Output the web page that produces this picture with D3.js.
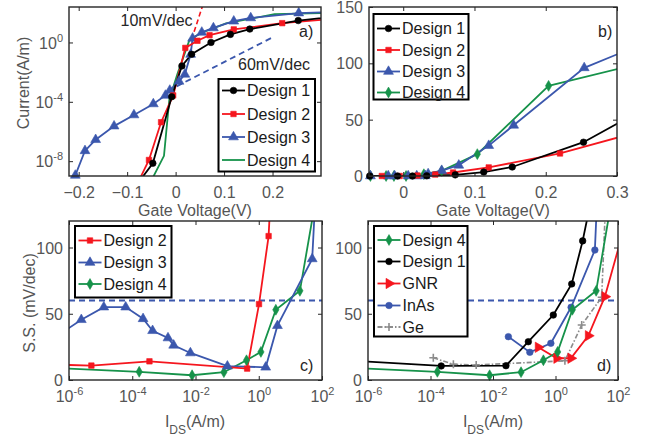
<!DOCTYPE html>
<html><head><meta charset="utf-8">
<script src="https://cdn.jsdelivr.net/npm/d3@7"></script>
<style>
body{margin:0;background:#fff}
text{font-family:"Liberation Sans",Arial,Helvetica,sans-serif}
</style>
</head><body>
<svg id="chart" width="652" height="439"></svg>
<script>
// ---------------- DATA ----------------
// Panels a) and b): gate voltage (V) vs current (A/m)
const design1V = [-0.087, -0.047, -0.008, 0.013, 0.033, 0.073, 0.113, 0.153, 0.253, 0.353];
const design1I = [1.3e-10, 7.2e-9, 2.2e-4, 0.026, 0.16, 1.0, 3.5, 8.0, 30, 65];
const design2V = [-0.08, -0.055, -0.03, -0.005, 0.02, 0.045, 0.07, 0.12, 0.22, 0.32];
const design2I = [2.5e-10, 1.2e-8, 4.2e-6, 2.7e-4, 0.43, 1.3, 3.1, 7.6, 20, 37.5];
const design3V = [-0.207, -0.187, -0.165, -0.127, -0.086, -0.046, -0.021, -0.012, 0.007, 0.019, 0.031, 0.035, 0.054, 0.078, 0.12, 0.155, 0.254, 0.354];
const design3I = [1.1e-9, 5e-8, 2.8e-7, 2.3e-6, 1.3e-5, 7.2e-5, 2.7e-4, 5.9e-4, 2.4e-3, 7.1e-3, 0.155, 1.9, 4.8, 9.5, 27, 45, 96, 122];
const design4V = [-0.046, -0.024, -0.013, 0.004, 0.029, 0.054, 0.104, 0.204, 0.304];
const design4I = [9e-10, 2.3e-8, 1.4e-4, 8e-3, 1.6, 4.5, 19.4, 80, 95.5];
// reference slopes in a)
const slope10V = [0.033, 0.057];
const slope10I = [1.6, 400];
const slope60V = [0.002, 0.201];
const slope60I = [1.1e-3, 2.3];

// Panels c) and d): I_DS (A/m) vs S.S. (mV/dec)
const ss2I = [6e-8, 5.1e-6, 3.5e-4, 0.43, 1.02, 2.05, 4];
const ss2 = [12, 10.9, 14.1, 8.6, 57.3, 108.6, 250];
const ss3I = [5e-7, 2.45e-6, 1.26e-5, 6.2e-5, 2.2e-4, 4.4e-4, 1.35e-3, 2.04e-3, 6.9e-3, 0.102, 1.66, 3.9, 49, 63];
const ss3 = [34.4, 45.5, 55, 55, 46.2, 37.2, 31.7, 26.2, 20.4, 10.4, 9.6, 41, 91.4, 142];
const ss4I = [1e-7, 1.66e-4, 7.8e-3, 0.079, 0.41, 1.17, 3.47, 20, 56];
const ss4 = [9.6, 6.2, 3.6, 5.9, 14.9, 21.2, 53, 67.3, 129];
const ss1I = [7.2e-9, 2.2e-4, 0.026, 0.135, 0.85, 3.3, 7.4, 30];
const ss1 = [16.8, 10.6, 10.8, 28.9, 49, 72.5, 105, 175];
const gnrI = [0.28, 1.1, 3.1, 11.2, 38, 158];
const gnrSS = [24.7, 16.4, 16.4, 33.4, 62.9, 115];
const inasI = [0.031, 0.151, 0.71, 3.16, 18.2, 22.4];
const inasSS = [32.7, 20.9, 27.7, 54.9, 98.1, 147];
const geI = [1.23e-4, 5.4e-4, 2.9e-3, 2.0, 6.9, 30, 41.7];
const geSS = [16.8, 11.8, 11.3, 14.5, 41.5, 62.4, 143];
const ssRef = 60;

// tick values
const aXTicks = [-0.2, -0.1, 0, 0.1, 0.2];
const aYTicks = [1e-8, 1e-4, 1];
const bXTicks = [0, 0.1, 0.2, 0.3];
const bYTicks = [0, 50, 100, 150];
const cdXTicks = [1e-6, 1e-4, 1e-2, 1, 1e2];
const cdYTicks = [0, 50, 100];

// ---------------- STYLE ----------------
const C = {black:"#000000", red:"#f5161e", blue:"#3b57ad", green:"#16924a", gray:"#8c8c8c"};
const AX = "#262626", TK = "#555555";

const svg = d3.select("#chart");

function panel(name, left, top, w, h, x, y) {
  x.range([0, w]); y.range([h, 0]);
  const g = svg.append("g").attr("transform", `translate(${left},${top})`);
  g.append("clipPath").attr("id", "clip-" + name).append("rect").attr("width", w).attr("height", h);
  const data = g.append("g").attr("clip-path", `url(#clip-${name})`);
  return {g, data, x, y, w, h};
}

function styleAxis(sel) {
  sel.select(".domain").remove();
  sel.selectAll(".tick line").attr("stroke", AX).attr("stroke-width", 1);
  sel.selectAll(".tick text").attr("fill", TK).attr("font-size", 16)
     .style("font-family", '"Liberation Sans",Arial,sans-serif');
}
function supFmt(sel) {
  sel.each(function(d) {
    const t = d3.select(this); t.text(null);
    t.append("tspan").text("10");
    t.append("tspan").attr("dy", -7).attr("font-size", 11).text(String(Math.round(Math.log10(d))));
  });
}

function axes(P, xt, yt, xLog, yLog, xFmt, yFmt) {
  const {g, x, y, w, h} = P;
  const b = g.append("g").attr("transform", `translate(0,${h})`)
    .call(d3.axisBottom(x).tickValues(xt).tickSize(-4).tickSizeOuter(0).tickFormat(xFmt || (d => d)));
  styleAxis(b);
  b.selectAll(".tick text").attr("y", xLog ? 21.5 : 21.5).attr("dy", null);
  if (xLog) supFmt(b.selectAll(".tick text"));
  const t = g.append("g").call(d3.axisTop(x).tickValues(xt).tickSize(-4).tickSizeOuter(0).tickFormat(""));
  styleAxis(t);
  t.selectAll(".tick text").remove();
  const l = g.append("g")
    .call(d3.axisLeft(y).tickValues(yt).tickSize(-4).tickSizeOuter(0).tickFormat(yFmt || (d => d)));
  styleAxis(l);
  l.selectAll(".tick text").attr("x", -6).attr("dy", "0.35em");
  if (yLog) supFmt(l.selectAll(".tick text"));
  const r = g.append("g").attr("transform", `translate(${w},0)`)
    .call(d3.axisRight(y).tickValues(yt).tickSize(-4).tickSizeOuter(0).tickFormat(""));
  styleAxis(r);
  r.selectAll(".tick text").remove();
  g.append("rect").attr("width", w).attr("height", h).attr("fill", "none")
    .attr("stroke", AX).attr("stroke-width", 1.4);
  return b;
}

const sym = {
  circle: d3.symbol().type(d3.symbolCircle).size(34),
  square: d3.symbol().type(d3.symbolSquare).size(30),
  triangle: d3.symbol().type(d3.symbolTriangle).size(42),
  diamond: d3.symbol().type(d3.symbolDiamond).size(34),
  right: d3.symbol().type(d3.symbolTriangle).size(46)
};

function series(P, xs, ys, color, marker, opts = {}) {
  const pts = d3.zip(xs, ys);
  const line = d3.line().x(d => P.x(d[0])).y(d => P.y(d[1]));
  const path = P.data.append("path").datum(pts).attr("d", line).attr("fill", "none")
    .attr("stroke", color).attr("stroke-width", opts.width || 1.8);
  if (opts.dash) path.attr("stroke-dasharray", opts.dash);
  if (!marker) return;
  const [x0, x1] = P.x.domain(), [y0, y1] = P.y.domain();
  const inside = pts.filter(d => d[0] >= Math.min(x0,x1) && d[0] <= Math.max(x0,x1) && d[1] >= Math.min(y0,y1) && d[1] <= Math.max(y0,y1));
  drawMarkers(P.g, inside.map(d => [P.x(d[0]), P.y(d[1])]), color, marker);
}
function drawMarkers(g, pxs, color, marker) {
  const m = g.selectAll(null).data(pxs).enter().append("path")
    .attr("transform", d => `translate(${d[0]},${d[1]})` + (marker === "right" ? " rotate(90)" : ""));
  if (marker === "plus") {
    m.attr("d", "M-4,0H4M0,-4V4").attr("fill", "none").attr("stroke", color).attr("stroke-width", 1.6);
  } else {
    m.attr("d", sym[marker]()).attr("fill", color).attr("stroke", color).attr("stroke-width", 0.6);
  }
}

function legend(x0, y0, x1, y1, entries, rowY) {
  const g = svg.append("g");
  g.append("rect").attr("x", x0).attr("y", y0).attr("width", x1 - x0).attr("height", y1 - y0)
    .attr("fill", "#fff").attr("stroke", "#000").attr("stroke-width", 2);
  entries.forEach((e, i) => {
    const yy = rowY[i];
    const l = g.append("line").attr("x1", x0 + 3.5).attr("x2", x0 + 26.5).attr("y1", yy).attr("y2", yy)
      .attr("stroke", e.color).attr("stroke-width", 1.8);
    if (e.dash) l.attr("stroke-dasharray", e.dash);
    if (e.marker) drawMarkers(g, [[x0 + 15, yy]], e.color, e.marker);
    g.append("text").attr("x", x0 + 28.5).attr("y", yy + 5.8).attr("font-size", 16).attr("fill", "#1a1a1a").text(e.label);
  });
}

function label(x, y, txt, opts = {}) {
  const t = svg.append("text").attr("x", x).attr("y", y).attr("font-size", 16)
    .attr("fill", opts.fill || TK).text(txt);
  if (opts.anchor) t.attr("text-anchor", opts.anchor);
  if (opts.rotate) t.attr("transform", `rotate(-90,${x},${y})`);
  return t;
}
function idsLabel(cx, y) {
  const t = svg.append("text").attr("x", cx).attr("y", y).attr("font-size", 16)
    .attr("fill", TK).attr("text-anchor", "middle");
  t.append("tspan").text("I");
  t.append("tspan").attr("dy", 7).attr("font-size", 12).text("DS");
  t.append("tspan").attr("dy", -7).text("(A/m)");
}

// ---------------- PANEL a ----------------
const Pa = panel("a", 69, 7, 252, 169, d3.scaleLinear().domain([-0.22, 0.3]), d3.scaleLog().domain([1e-9, Math.pow(10, 2.39)]));
series(Pa, slope10V, slope10I, C.red, null, {dash: "5,3", width: 1.6});
series(Pa, slope60V, slope60I, C.blue, null, {dash: "6,4", width: 1.8});
series(Pa, design4V, design4I, C.green, null);
series(Pa, design3V, design3I, C.blue, "triangle");
series(Pa, design2V, design2I, C.red, "square");
series(Pa, design1V, design1I, C.black, "circle");
axes(Pa, aXTicks, aYTicks, false, true, d => d === 0 ? "0" : d3.format(".1f")(d));
label(120.5, 26, "10mV/dec", {fill: "#262626"});
label(238, 69.5, "60mV/dec", {fill: "#262626"});
label(299, 37, "a)", {fill: "#262626"});
legend(218.5, 79, 315, 171.5, [
  {label: "Design 1", color: C.black, marker: "circle"},
  {label: "Design 2", color: C.red, marker: "square"},
  {label: "Design 3", color: C.blue, marker: "triangle"},
  {label: "Design 4", color: C.green, marker: null}
], [90.5, 114, 137, 160]);
label(195, 215.5, "Gate Voltage(V)", {anchor: "middle"});
label(28.5, 83, "Current(A/m)", {anchor: "middle", rotate: true});

// ---------------- PANEL b ----------------
const Pb = panel("b", 369, 7, 248, 169, d3.scaleLinear().domain([-0.048, 0.3]), d3.scaleLinear().domain([0, 150]));
series(Pb, design4V, design4I, C.green, "diamond");
series(Pb, design3V, design3I, C.blue, "triangle");
series(Pb, design2V, design2I, C.red, "square");
series(Pb, design1V, design1I, C.black, "circle");
axes(Pb, bXTicks, bYTicks, false, false, d => d === 0 ? "0" : d3.format(".1f")(d));
label(598, 37, "b)", {fill: "#262626"});
legend(373.5, 14, 468.5, 99.5, [
  {label: "Design 1", color: C.black, marker: "circle"},
  {label: "Design 2", color: C.red, marker: "square"},
  {label: "Design 3", color: C.blue, marker: "triangle"},
  {label: "Design 4", color: C.green, marker: "diamond"}
], [28.5, 50, 71.5, 92.5]);
label(493, 215.5, "Gate Voltage(V)", {anchor: "middle"});

// ---------------- PANEL c ----------------
const Pc = panel("c", 69, 221, 253, 159, d3.scaleLog().domain([1e-6, 1e2]), d3.scaleLinear().domain([0, 120]));
series(Pc, [1e-6, 1e2], [ssRef, ssRef], C.blue, null, {dash: "6,4", width: 1.8});
series(Pc, ss4I, ss4, C.green, "diamond");
series(Pc, ss3I, ss3, C.blue, "triangle");
series(Pc, ss2I, ss2, C.red, "square");
axes(Pc, cdXTicks, cdYTicks, true, false);
label(300, 370.5, "c)", {fill: "#262626"});
legend(75, 226, 171.5, 297.5, [
  {label: "Design 2", color: C.red, marker: "square"},
  {label: "Design 3", color: C.blue, marker: "triangle"},
  {label: "Design 4", color: C.green, marker: "diamond"}
], [240.5, 262.5, 284]);
idsLabel(195, 426.5);
label(34.5, 303, "S.S. (mV/dec)", {anchor: "middle", rotate: true});

// ---------------- PANEL d ----------------
const Pd = panel("d", 368, 221, 250, 159, d3.scaleLog().domain([1e-6, 1e2]), d3.scaleLinear().domain([0, 120]));
series(Pd, [1e-6, 1e2], [ssRef, ssRef], C.blue, null, {dash: "6,4", width: 1.8});
series(Pd, geI, geSS, C.gray, "plus", {dash: "5,2,1.5,2", width: 1.6});
series(Pd, inasI, inasSS, C.blue, "circle");
series(Pd, gnrI, gnrSS, C.red, "right");
series(Pd, ss1I, ss1, C.black, "circle");
series(Pd, ss4I, ss4, C.green, "diamond");
axes(Pd, cdXTicks, cdYTicks, true, false);
label(597, 370.5, "d)", {fill: "#262626"});
legend(374, 226, 467.5, 336.5, [
  {label: "Design 4", color: C.green, marker: "diamond"},
  {label: "Design 1", color: C.black, marker: "circle"},
  {label: "GNR", color: C.red, marker: "right"},
  {label: "InAs", color: C.blue, marker: "circle"},
  {label: "Ge", color: C.gray, marker: "plus", dash: "5,2,1.5,2"}
], [240, 261.5, 283.5, 305.5, 327]);
idsLabel(493, 426.5);
</script>
</body></html>
